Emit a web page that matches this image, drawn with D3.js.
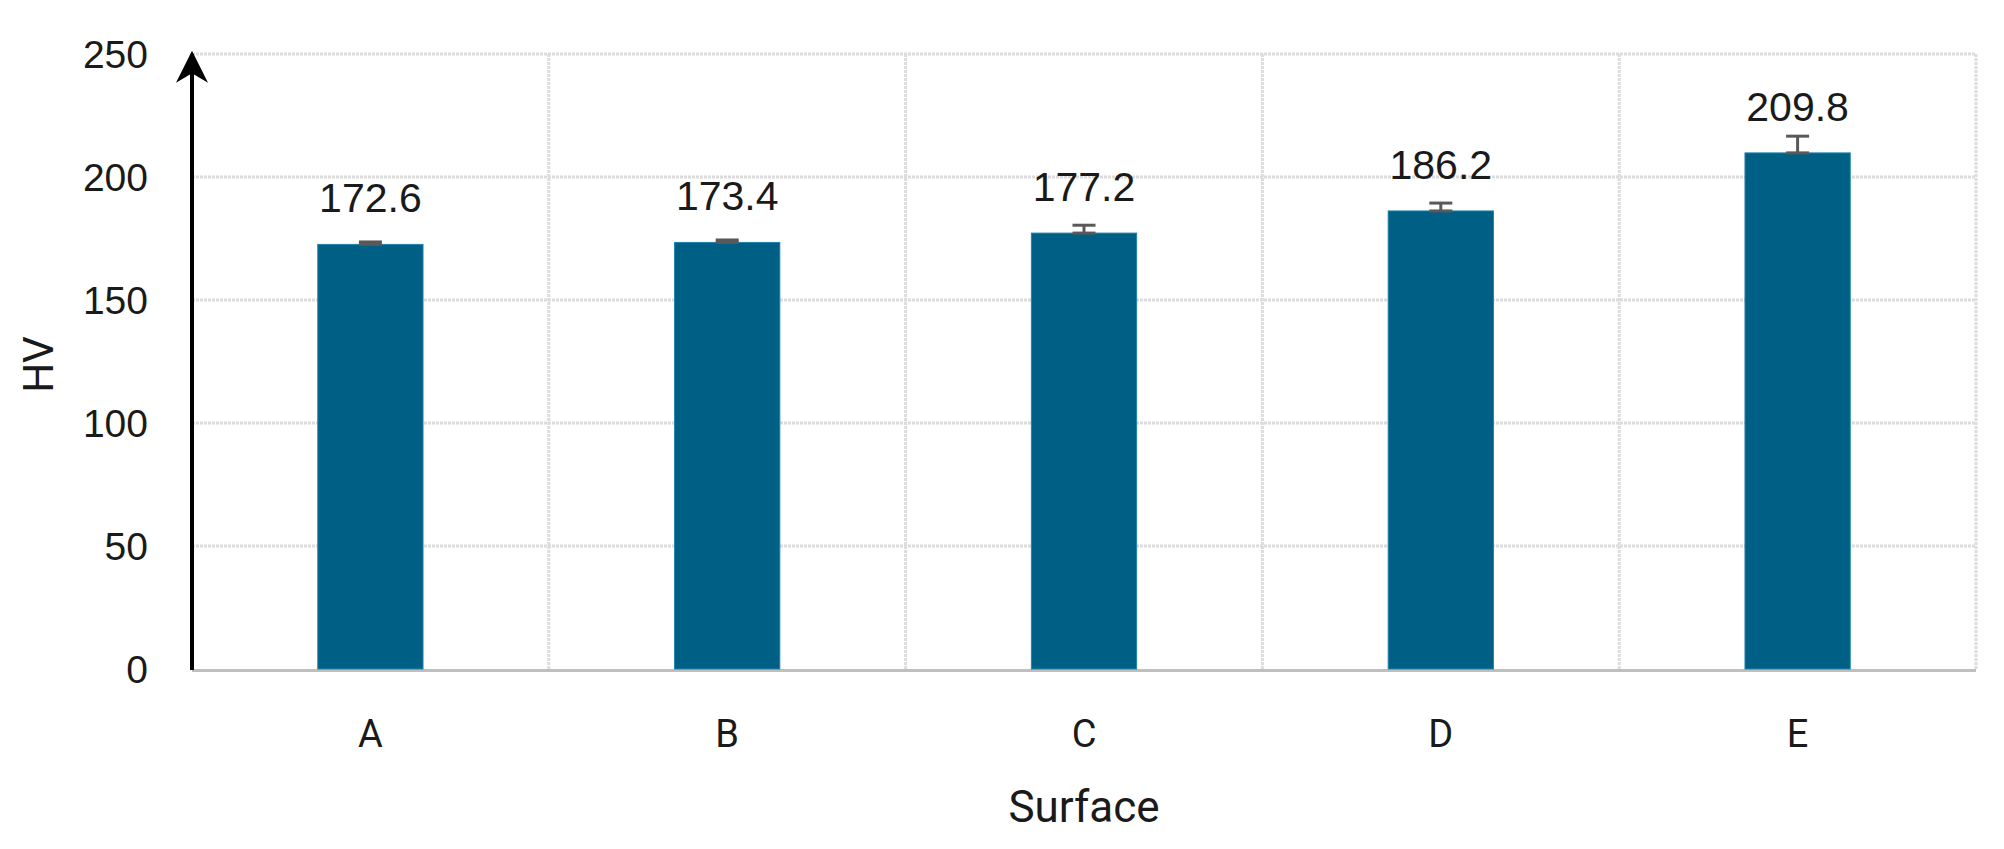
<!DOCTYPE html>
<html>
<head>
<meta charset="utf-8">
<script src="https://cdn.jsdelivr.net/npm/d3@7"></script>
<style>
  body { margin: 0; background: #fff; }
  svg { display: block; }
</style>
</head>
<body>
<div id="chart"></div>
<script>
// values
const surfaces = ["A", "B", "C", "D", "E"];
const hardness = [172.6, 173.4, 177.2, 186.2, 209.8];
const errors = [1.0, 1.0, 3.2, 3.2, 6.8];
const yTicks = [0, 50, 100, 150, 200, 250];

const W = 2004, H = 849;
const margin = { top: 54, right: 28, bottom: 180, left: 192 };
const width = W - margin.left - margin.right;
const height = H - margin.top - margin.bottom;

const svg = d3.select("#chart").append("svg")
  .attr("width", W)
  .attr("height", H);

const g = svg.append("g")
  .attr("transform", `translate(${margin.left},${margin.top})`);

const x = d3.scaleBand()
  .domain(surfaces)
  .range([0, width])
  .paddingInner(0.705)
  .paddingOuter(0.3525);

const y = d3.scaleLinear()
  .domain([0, 250])
  .range([height, 0]);

const step = width / surfaces.length;

// grid
g.append("g").attr("class", "hgrid")
  .selectAll("line")
  .data(yTicks.filter(d => d > 0))
  .enter().append("line")
  .attr("x1", 0).attr("x2", width)
  .attr("y1", d => y(d)).attr("y2", d => y(d))
  .attr("stroke", "#dcdcdc")
  .attr("stroke-width", 3)
  .attr("stroke-dasharray", "3,1");

g.append("g").attr("class", "vgrid")
  .selectAll("line")
  .data(d3.range(1, surfaces.length + 1))
  .enter().append("line")
  .attr("x1", d => d * step).attr("x2", d => d * step)
  .attr("y1", 0).attr("y2", height)
  .attr("stroke", "#dcdcdc")
  .attr("stroke-width", 3)
  .attr("stroke-dasharray", "3,1");

// x axis line
g.append("line")
  .attr("x1", 0).attr("x2", width)
  .attr("y1", height + 1.5).attr("y2", height + 1.5)
  .attr("stroke", "#bfbfbf")
  .attr("stroke-width", 3);

// bars
const data = surfaces.map((s, i) => ({ s: s, v: hardness[i], e: errors[i] }));

g.selectAll(".bar")
  .data(data)
  .enter().append("rect")
  .attr("class", "bar")
  .attr("x", d => x(d.s))
  .attr("y", d => y(d.v))
  .attr("width", x.bandwidth())
  .attr("height", d => height - y(d.v))
  .attr("fill", "#005f85")
  .attr("stroke", "#1f84aa")
  .attr("stroke-width", 1);

// error bars
const capW = 23;
const err = g.selectAll(".err")
  .data(data)
  .enter().append("g")
  .attr("class", "err")
  .attr("stroke", "#595959")
  .attr("stroke-width", 3);

err.append("line")
  .attr("x1", d => x(d.s) + x.bandwidth() / 2)
  .attr("x2", d => x(d.s) + x.bandwidth() / 2)
  .attr("y1", d => y(d.v))
  .attr("y2", d => y(d.v + d.e));
err.append("line")
  .attr("x1", d => x(d.s) + x.bandwidth() / 2 - capW / 2)
  .attr("x2", d => x(d.s) + x.bandwidth() / 2 + capW / 2)
  .attr("y1", d => y(d.v + d.e))
  .attr("y2", d => y(d.v + d.e));
err.append("line")
  .attr("x1", d => x(d.s) + x.bandwidth() / 2 - capW / 2)
  .attr("x2", d => x(d.s) + x.bandwidth() / 2 + capW / 2)
  .attr("y1", d => y(d.v))
  .attr("y2", d => y(d.v));

// value labels
g.selectAll(".val")
  .data(data)
  .enter().append("text")
  .attr("class", "val")
  .attr("x", d => x(d.s) + x.bandwidth() / 2)
  .attr("y", d => y(d.v) - 32)
  .attr("text-anchor", "middle")
  .attr("font-family", "'Liberation Sans', Arial, sans-serif")
  .attr("font-size", 41)
  .attr("fill", "#1a1a1a")
  .text(d => d.v.toFixed(1));

// y tick labels
g.selectAll(".ytick")
  .data(yTicks)
  .enter().append("text")
  .attr("class", "ytick")
  .attr("x", -44)
  .attr("y", d => y(d))
  .attr("dy", "0.36em")
  .attr("text-anchor", "end")
  .attr("font-family", "'Liberation Sans', Arial, sans-serif")
  .attr("font-size", 39)
  .attr("fill", "#1a1a1a")
  .text(d => d);

// x tick labels
g.selectAll(".xtick")
  .data(surfaces)
  .enter().append("text")
  .attr("class", "xtick")
  .attr("x", d => x(d) + x.bandwidth() / 2)
  .attr("y", height + 78)
  .attr("text-anchor", "middle")
  .attr("font-family", "Roboto, 'Liberation Sans', sans-serif")
  .attr("font-size", 38)
  .attr("fill", "#1a1a1a")
  .text(d => d);

// y axis with arrow
svg.append("defs").append("marker")
  .attr("id", "arrow")
  .attr("viewBox", "0 0 10 10")
  .attr("refX", 9).attr("refY", 5)
  .attr("markerWidth", 8).attr("markerHeight", 8)
  .attr("markerUnits", "strokeWidth")
  .attr("orient", "auto")
  .append("path")
  .attr("d", "M0,0 L10,5 L0,10 L3,5 Z")
  .attr("fill", "#000");

g.append("line")
  .attr("x1", 0).attr("x2", 0)
  .attr("y1", height + 1).attr("y2", 0)
  .attr("stroke", "#000")
  .attr("stroke-width", 4)
  .attr("marker-end", "url(#arrow)");

// axis titles
svg.append("text")
  .attr("transform", `translate(53,${margin.top + height / 2 + 3}) rotate(-90)`)
  .attr("text-anchor", "middle")
  .attr("font-family", "Roboto, 'Liberation Sans', sans-serif")
  .attr("font-size", 42)
  .attr("fill", "#1a1a1a")
  .text("HV");

svg.append("text")
  .attr("x", margin.left + width / 2)
  .attr("y", 822)
  .attr("text-anchor", "middle")
  .attr("font-family", "Roboto, 'Liberation Sans', sans-serif")
  .attr("font-size", 44)
  .attr("fill", "#1a1a1a")
  .text("Surface");
</script>
</body>
</html>
